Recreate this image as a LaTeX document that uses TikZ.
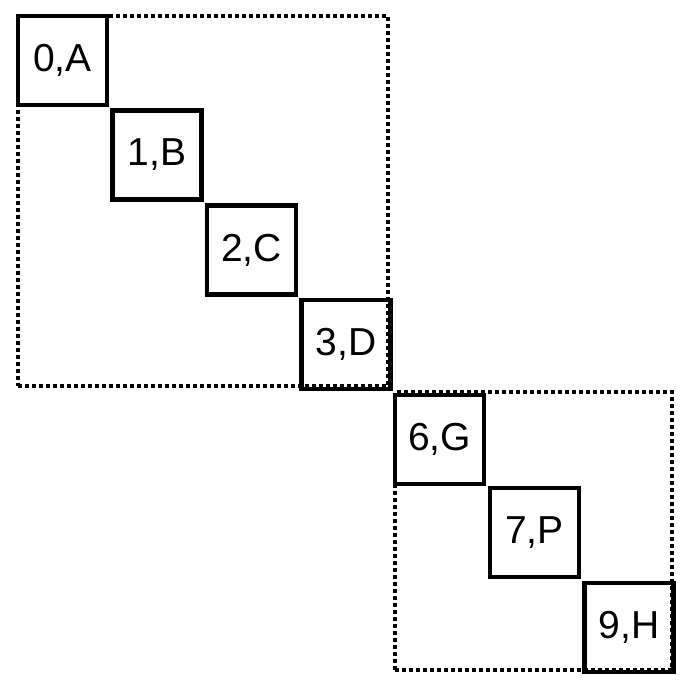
\documentclass[tikz,border=0pt]{standalone}
\usepackage{fontspec}
\setmainfont{Liberation Sans}
\begin{document}
\begin{tikzpicture}[x=1pt,y=-1pt,
  cell/.style={draw, line width=4.3pt, minimum size=89pt, inner sep=0pt,
    font=\fontsize{39}{44}\selectfont},
  group/.style={draw, line width=3.8pt, dash pattern=on 3.6pt off 3.4pt,
    inner sep=0pt}]
\useasboundingbox (0,0) rectangle (697,687);
% dotted group frames
\node[group, minimum width=370pt, minimum height=370pt] (g1) at (203,201) {};
\node[group, minimum width=277pt, minimum height=278pt] (g2) at (533.5,531) {};
% diagonal cells
\node[cell] (c0) at (62.5,60.5) {0,A};
\node[cell] (c1) at (157,155) {1,B};
\node[cell] (c2) at (251.5,250) {2,C};
\node[cell] (c3) at (346,344.5) {3,D};
\node[cell] (c6) at (439.5,439.5) {6,G};
\node[cell] (c7) at (534.5,532.5) {7,P};
\node[cell] (c9) at (629,627.5) {9,H};
\end{tikzpicture}
\end{document}
